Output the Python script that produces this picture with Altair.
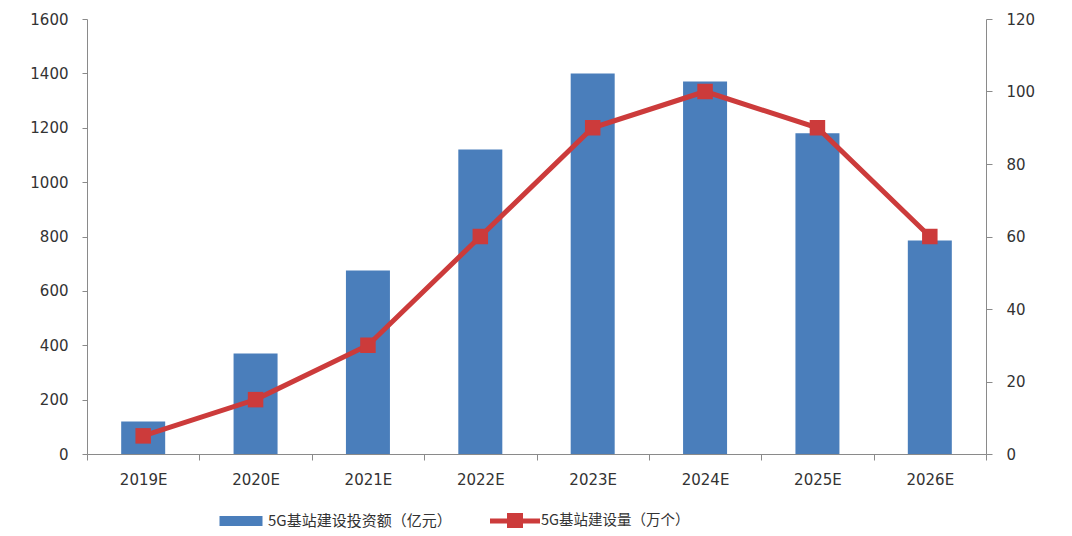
import altair as alt
import pandas as pd

years = ["2019E", "2020E", "2021E", "2022E", "2023E", "2024E", "2025E", "2026E"]
invest = [120, 370, 675, 1120, 1400, 1370, 1180, 785]
stations = [5, 15, 30, 60, 90, 100, 90, 60]
left_ticks = [0, 200, 400, 600, 800, 1000, 1200, 1400, 1600]
right_ticks = [0, 20, 40, 60, 80, 100, 120]
bar_name = "5G基站建设投资额（亿元）"
line_name = "5G基站建设量（万个）"

BLUE = "#4a7ebb"
RED = "#cc3b3b"
AXIS = "#8a8a8a"
TEXT = "#333333"
FONT = "DejaVu Sans"
CJK = "Noto Sans CJK SC"

df = pd.DataFrame({"year": years, "invest": invest, "stations": stations,
                   "bar_s": bar_name, "line_s": line_name})

x = alt.X("year:N", sort=years, title=None,
          scale=alt.Scale(paddingInner=0, paddingOuter=0),
          axis=alt.Axis(tickBand="extent", labelAngle=0, labelFontSize=15,
                        labelFont=FONT, labelColor=TEXT, labelPadding=12,
                        tickSize=6, domainColor=AXIS, tickColor=AXIS, grid=False))

bars = alt.Chart(df).mark_bar(size=44, color=BLUE).encode(
    x=x,
    y=alt.Y("invest:Q", title=None,
            scale=alt.Scale(domain=[0, 1600], nice=False),
            axis=alt.Axis(values=left_ticks, format="d", orient="left", labelFontSize=15,
                          labelFont=FONT, labelColor=TEXT, labelPadding=14,
                          tickSize=5, domainColor=AXIS, tickColor=AXIS, grid=False)),
    color=alt.Color("bar_s:N", title=None,
                    scale=alt.Scale(domain=[bar_name], range=[BLUE]),
                    legend=alt.Legend(orient="none", legendX=144, legendY=492,
                                      symbolType="M-2.15,-0.5L2.15,-0.5L2.15,0.5L-2.15,0.5Z",
                                      symbolSize=400, symbolStrokeWidth=0,
                                      labelFont=CJK, labelFontSize=15, labelLimit=400,
                                      labelColor=TEXT, labelOffset=17)),
)

yline = alt.Y("stations:Q", title=None,
              scale=alt.Scale(domain=[0, 120], nice=False),
              axis=alt.Axis(values=right_ticks, format="d", orient="right", labelFontSize=15,
                            labelFont=FONT, labelColor=TEXT, labelPadding=14,
                            tickSize=6, domainColor=AXIS, tickColor=AXIS, grid=False))

line = alt.Chart(df).mark_line(color=RED, strokeWidth=5).encode(
    x=alt.X("year:N", sort=years),
    y=yline,
)

points = alt.Chart(df).mark_point(shape="square", filled=True, size=240, opacity=1).encode(
    x=alt.X("year:N", sort=years),
    y=yline,
    color=alt.Color("line_s:N", title=None,
                    scale=alt.Scale(domain=[line_name], range=[RED]),
                    legend=alt.Legend(orient="none", legendX=418, legendY=492,
                                      symbolType="M-2.5,-0.25L2.5,-0.25L2.5,0.25L-2.5,0.25Z M-0.8,-0.8L0.8,-0.8L0.8,0.8L-0.8,0.8Z",
                                      symbolSize=400, symbolStrokeWidth=0,
                                      labelFont=CJK, labelFontSize=14.5, labelLimit=400,
                                      labelColor=TEXT, labelOffset=16)),
)

right = alt.layer(line, points)

chart = alt.layer(bars, right).resolve_scale(
    y="independent", color="independent"
).resolve_legend(color="independent").properties(
    width=899, height=435,
    padding={"left": 79, "top": 11, "right": 70, "bottom": 74},
    autosize="none",
    background="white",
).configure_view(stroke=None)

chart.save("out.html", embed_options={"renderer": "svg", "actions": False})
